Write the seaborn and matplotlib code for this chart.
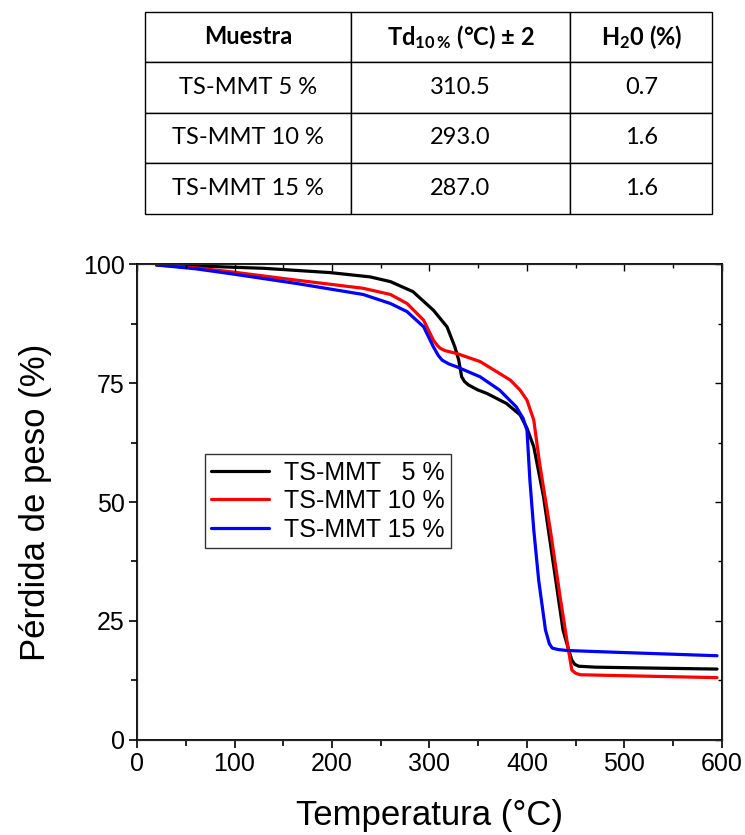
import numpy as np
import pandas as pd
import seaborn as sns
import matplotlib.pyplot as plt
from matplotlib.ticker import MultipleLocator

# TGA curves (temperature in °C, residual weight in %)
temp_5 = [20, 60, 130, 198, 239, 260, 283, 304, 318, 326, 330, 333, 336, 340, 349,
          359, 379, 393, 400, 407, 417, 427, 437, 442, 446, 449, 453, 470, 530, 595]
wt_5 = [99.8, 99.6, 99.1, 98.2, 97.3, 96.3, 94.2, 90.3, 86.8, 82.6, 79.8, 76.3, 75.3, 74.6, 73.6,
        72.8, 70.7, 68.3, 65.5, 61.6, 51.1, 37.1, 23.1, 19.5, 16.8, 15.9, 15.5, 15.3, 15.1, 14.9]

temp_10 = [20, 60, 95, 164, 232, 260, 277, 294, 304, 308, 311, 316, 328, 352, 372,
           383, 393, 400, 407, 413, 424, 434, 442, 446, 450, 455, 500, 595]
wt_10 = [99.8, 99.2, 98.4, 96.6, 94.9, 93.6, 91.7, 88.2, 84, 82.9, 82.3, 81.8, 81.2, 79.5, 77,
         75.6, 73.5, 71.4, 67.2, 58.1, 44.1, 30.1, 19.6, 14.7, 14, 13.7, 13.5, 13.1]

temp_15 = [20, 60, 95, 164, 232, 260, 277, 294, 304, 309, 313, 320, 328, 352, 372,
           389, 393, 396, 400, 403, 407, 412, 419, 423, 426, 432, 441, 495, 595]
wt_15 = [99.8, 99.0, 98, 95.9, 93.6, 91.7, 90, 86.8, 82.6, 80.8, 79.8, 79.0, 78.4, 76.3, 73.5,
         70, 68.6, 67.6, 65.1, 54.6, 44.1, 33.6, 23.1, 20.2, 19.3, 19.0, 18.8, 18.4, 17.7]

labels = ['TS-MMT   5 %', 'TS-MMT 10 %', 'TS-MMT 15 %']
colors = ['#000000', '#ff0000', '#0000ff']

# table values
table_header = ['Muestra', r'Td$_{10\,\%}$ (°C) ± 2', r'H$_2$0 (%)']
table_samples = ['TS-MMT 5 %', 'TS-MMT 10 %', 'TS-MMT 15 %']
table_td = ['310.5', '293.0', '287.0']
table_h2o = ['0.7', '1.6', '1.6']

frames = []
for lab, t, w in zip(labels, [temp_5, temp_10, temp_15], [wt_5, wt_10, wt_15]):
    frames.append(pd.DataFrame({'T': t, 'W': w, 'Muestra': lab}))
df = pd.concat(frames, ignore_index=True)

sns.set_style("ticks")
plt.rcParams['font.family'] = ['Liberation Sans', 'DejaVu Sans']
plt.rcParams['mathtext.default'] = 'regular'
plt.rcParams['text.color'] = 'black'
plt.rcParams['axes.labelcolor'] = 'black'
plt.rcParams['xtick.color'] = 'black'
plt.rcParams['ytick.color'] = 'black'

fig = plt.figure(figsize=(7.45, 8.35), dpi=100)

# ---- table ----
tax = fig.add_axes([0.195, 0.744, 0.761, 0.242])
tax.axis('off')
cells = [[s, td, h] for s, td, h in zip(table_samples, table_td, table_h2o)]
tbl = tax.table(cellText=cells, colLabels=table_header, cellLoc='center',
                colWidths=[0.362, 0.388, 0.25], bbox=[0, 0, 1, 1])
tbl.auto_set_font_size(False)
for (r, c), cell in tbl.get_celld().items():
    cell.set_edgecolor('black')
    cell.set_linewidth(1.0)
    txt = cell.get_text()
    txt.set_fontfamily(['Lato', 'DejaVu Sans'])
    txt.set_fontsize(17)
    txt.set_color('black')
    if r == 0:
        txt.set_fontweight('bold')

# ---- TGA plot ----
ax = fig.add_axes([0.184, 0.1138, 0.785, 0.570])
sns.lineplot(data=df, x='T', y='W', hue='Muestra', palette=colors,
             estimator=None, linewidth=2.3, ax=ax)

ax.set_xlim(0, 600)
ax.set_ylim(0, 100)
ax.xaxis.set_major_locator(MultipleLocator(100))
ax.xaxis.set_minor_locator(MultipleLocator(50))
ax.yaxis.set_major_locator(MultipleLocator(25))
ax.yaxis.set_minor_locator(MultipleLocator(12.5))
ax.tick_params(which='major', direction='out', length=6, width=1.2, labelsize=18, pad=3)
ax.tick_params(which='minor', direction='out', length=4, width=1.2)
for s in ax.spines.values():
    s.set_linewidth(1.3)
    s.set_color('black')

# inward ticks on top and right
top = ax.twiny()
top.set_xlim(0, 600)
top.xaxis.set_major_locator(MultipleLocator(100))
top.xaxis.set_minor_locator(MultipleLocator(50))
top.tick_params(which='major', direction='in', length=5, width=1, labeltop=False)
top.tick_params(which='minor', direction='in', length=3, width=1)
right = ax.twinx()
right.set_ylim(0, 100)
right.yaxis.set_major_locator(MultipleLocator(25))
right.yaxis.set_minor_locator(MultipleLocator(12.5))
right.tick_params(which='major', direction='in', length=5, width=1, labelright=False)
right.tick_params(which='minor', direction='in', length=3, width=1)

ax.set_xlabel('Temperatura (°C)', fontsize=25, labelpad=16)
ax.set_ylabel('Pérdida de peso (%)', fontsize=25, labelpad=22)

leg = ax.legend(loc='upper left', bbox_to_anchor=(0.116, 0.60), fontsize=18,
                frameon=True, fancybox=False, handlelength=2.3, borderpad=0.25,
                labelspacing=0.18, handletextpad=0.6, borderaxespad=0)
leg.get_frame().set_edgecolor('black')
leg.get_frame().set_linewidth(1.0)
leg.set_title(None)

fig.savefig('out.png', dpi=100)
